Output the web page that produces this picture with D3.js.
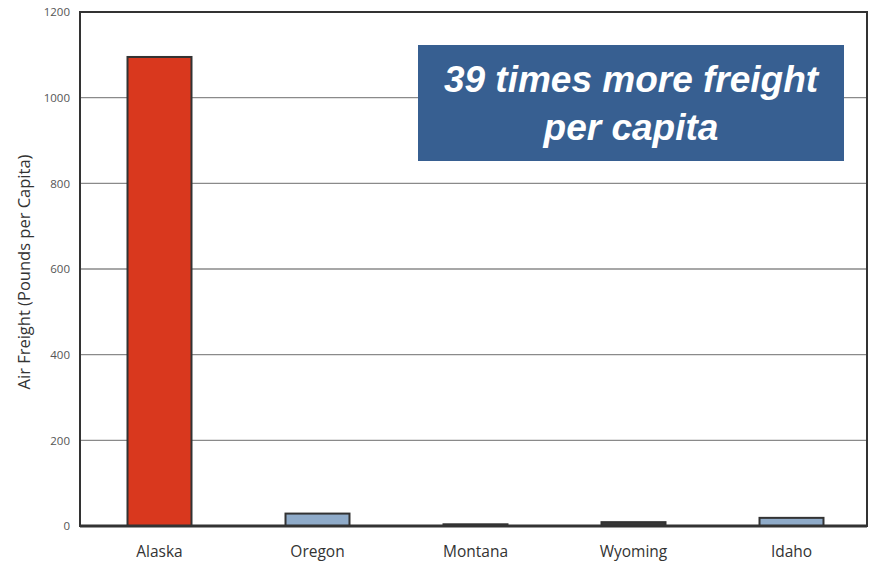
<!DOCTYPE html>
<html>
<head>
<meta charset="utf-8">
<script src="https://cdn.jsdelivr.net/npm/d3@7"></script>
<style>
  body { margin: 0; background: #fff; }
  svg { display: block; }
</style>
</head>
<body>
<svg id="chart" width="877" height="566"></svg>
<script>
// Air freight per capita by state
const states = ["Alaska", "Oregon", "Montana", "Wyoming", "Idaho"];
const freight = [1095, 29, 4, 9, 19];
const barColors = ["#d9381e", "#8fabc9", "#8fabc9", "#3a3a3a", "#8fabc9"];
const yTicks = [0, 200, 400, 600, 800, 1000, 1200];
const callout = ["39 times more freight", "per capita"];

const svg = d3.select("#chart");
const plot = { left: 80, right: 867, top: 12, bottom: 526 };

const x = d3.scaleBand()
  .domain(states)
  .range([plot.left + 2, plot.right + 2])
  .paddingInner(0.595)
  .paddingOuter(0.288);

const y = d3.scaleLinear()
  .domain([0, 1200])
  .range([plot.bottom, plot.top]);

// horizontal gridlines
svg.append("g")
  .selectAll("line")
  .data(yTicks.filter(d => d > 0 && d < 1200))
  .join("line")
  .attr("x1", plot.left)
  .attr("x2", plot.right)
  .attr("y1", d => y(d))
  .attr("y2", d => y(d))
  .attr("stroke", "#8a8a8a")
  .attr("stroke-width", 1.3);

// y tick labels
const yAxis = d3.axisLeft(y).tickValues(yTicks).tickFormat(d3.format("d")).tickSize(0).tickPadding(10);
const yg = svg.append("g")
  .attr("transform", `translate(${plot.left},0)`)
  .call(yAxis);
yg.select(".domain").remove();
yg.selectAll("text")
  .attr("font-family", "'Open Sans', sans-serif")
  .attr("font-size", 11.5)
  .attr("fill", "#555");

// bars
svg.append("g")
  .selectAll("rect")
  .data(states)
  .join("rect")
  .attr("x", d => x(d))
  .attr("width", x.bandwidth())
  .attr("y", (d, i) => y(freight[i]))
  .attr("height", (d, i) => y(0) - y(freight[i]))
  .attr("fill", (d, i) => barColors[i])
  .attr("stroke", "#333")
  .attr("stroke-width", 2);

// plot frame
svg.append("rect")
  .attr("x", plot.left)
  .attr("y", plot.top)
  .attr("width", plot.right - plot.left)
  .attr("height", plot.bottom - plot.top)
  .attr("fill", "none")
  .attr("stroke", "#333")
  .attr("stroke-width", 2);

// baseline
svg.append("line")
  .attr("x1", plot.left)
  .attr("x2", plot.right)
  .attr("y1", y(0))
  .attr("y2", y(0))
  .attr("stroke", "#333")
  .attr("stroke-width", 3);

// category labels
const xAxis = d3.axisBottom(x).tickSize(0).tickPadding(20);
const xg = svg.append("g")
  .attr("transform", `translate(0,${plot.bottom})`)
  .call(xAxis);
xg.select(".domain").remove();
xg.selectAll("text")
  .attr("font-family", "'Open Sans', sans-serif")
  .attr("font-size", 15.5)
  .attr("fill", "#333");

// y axis title
svg.append("text")
  .attr("transform", `translate(30,${(plot.top + plot.bottom) / 2 + 3}) rotate(-90)`)
  .attr("text-anchor", "middle")
  .attr("font-family", "'Open Sans', sans-serif")
  .attr("font-size", 16.5)
  .attr("fill", "#333")
  .text("Air Freight (Pounds per Capita)");

// callout box
const box = { x: 418, y: 45, w: 426, h: 116 };
svg.append("rect")
  .attr("x", box.x)
  .attr("y", box.y)
  .attr("width", box.w)
  .attr("height", box.h)
  .attr("fill", "#375f91");

svg.append("g")
  .selectAll("text")
  .data(callout)
  .join("text")
  .attr("x", box.x + box.w / 2)
  .attr("y", (d, i) => 92 + i * 48)
  .attr("text-anchor", "middle")
  .attr("font-family", "'Liberation Sans', Arial, sans-serif")
  .attr("font-size", 37)
  .attr("font-weight", "bold")
  .attr("font-style", "italic")
  .attr("fill", "#fff")
  .text(d => d);
</script>
</body>
</html>
